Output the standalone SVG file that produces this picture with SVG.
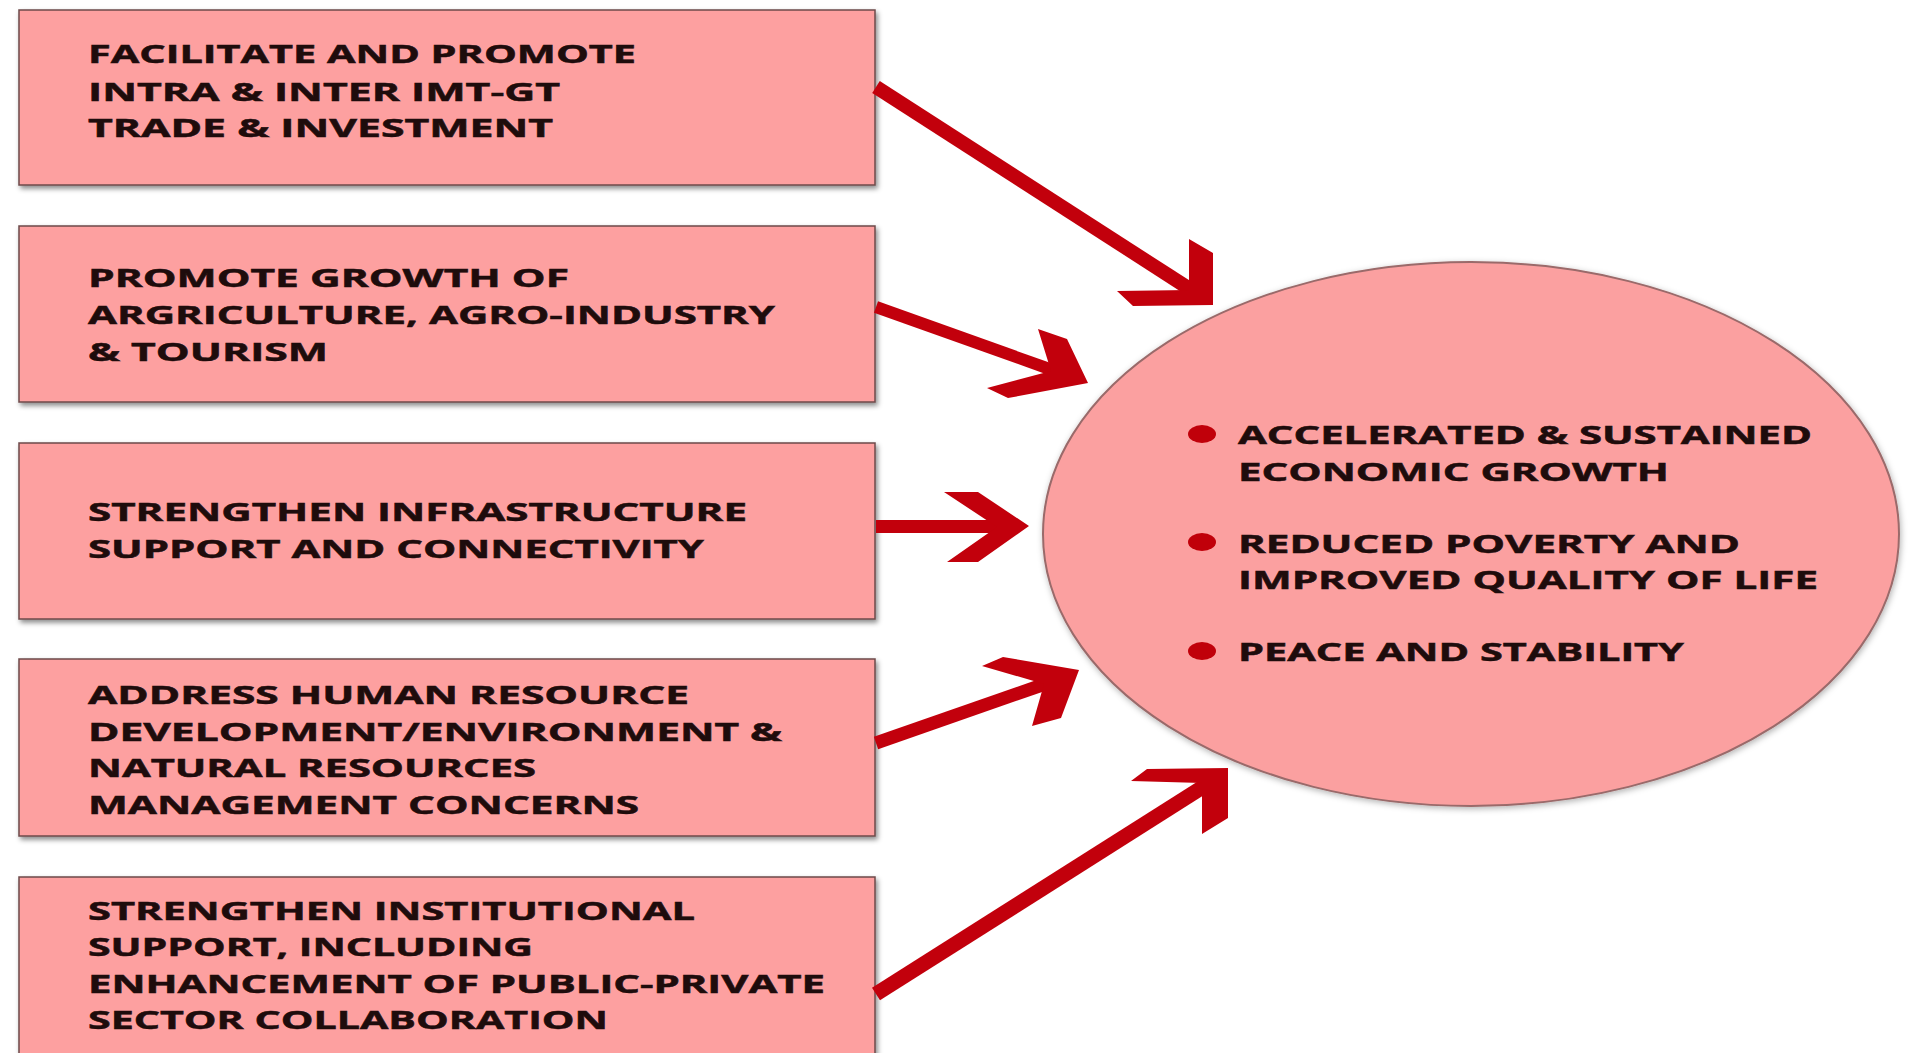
<svg xmlns="http://www.w3.org/2000/svg" width="1911" height="1053" viewBox="0 0 1911 1053">
<defs>
<filter id="sh" x="-5%" y="-5%" width="110%" height="115%">
<feDropShadow dx="2" dy="3" stdDeviation="2.5" flood-color="#000" flood-opacity="0.45"/>
</filter>
<filter id="sh2" x="-5%" y="-5%" width="110%" height="115%">
<feDropShadow dx="1" dy="2" stdDeviation="3" flood-color="#000" flood-opacity="0.3"/>
</filter>
<style>
.box{fill:#fda0a0;stroke:#6e4a4a;stroke-width:1.5;filter:url(#sh)}
.t{font-family:"Open Sans","Liberation Sans",sans-serif;font-weight:bold;font-size:24.5px;fill:#1e0c0c;stroke:#1e0c0c;stroke-width:0.5}
.ln{stroke:#c2000c;fill:none}
.hd{fill:#c2000c}
.bul{fill:#c0000a}
</style>
</defs>
<rect width="1911" height="1053" fill="#ffffff"/>

<g id="box1">
<rect class="box" x="19" y="10" width="856" height="175"/>
<text class="t" x="88" y="63" textLength="548" lengthAdjust="spacingAndGlyphs">FACILITATE AND PROMOTE</text>
<text class="t" x="88" y="100.5" textLength="472" lengthAdjust="spacingAndGlyphs">INTRA &amp; INTER IMT-GT</text>
<text class="t" x="88" y="137" textLength="465" lengthAdjust="spacingAndGlyphs">TRADE &amp; INVESTMENT</text>
</g>

<g id="box2">
<rect class="box" x="19" y="226" width="856" height="176"/>
<text class="t" x="88" y="287" textLength="481" lengthAdjust="spacingAndGlyphs">PROMOTE GROWTH OF</text>
<text class="t" x="88" y="324" textLength="687" lengthAdjust="spacingAndGlyphs">ARGRICULTURE, AGRO-INDUSTRY</text>
<text class="t" x="88" y="361" textLength="240" lengthAdjust="spacingAndGlyphs">&amp; TOURISM</text>
</g>

<g id="box3">
<rect class="box" x="19" y="443" width="856" height="176"/>
<text class="t" x="88" y="521" textLength="659" lengthAdjust="spacingAndGlyphs">STRENGTHEN INFRASTRUCTURE</text>
<text class="t" x="88" y="558" textLength="616" lengthAdjust="spacingAndGlyphs">SUPPORT AND CONNECTIVITY</text>
</g>

<g id="box4">
<rect class="box" x="19" y="659" width="856" height="177"/>
<text class="t" x="88" y="704" textLength="601" lengthAdjust="spacingAndGlyphs">ADDRESS HUMAN RESOURCE</text>
<text class="t" x="88" y="740.5" textLength="694" lengthAdjust="spacingAndGlyphs">DEVELOPMENT/ENVIRONMENT &amp;</text>
<text class="t" x="88" y="777" textLength="448" lengthAdjust="spacingAndGlyphs">NATURAL RESOURCES</text>
<text class="t" x="88" y="813.5" textLength="551" lengthAdjust="spacingAndGlyphs">MANAGEMENT CONCERNS</text>
</g>

<g id="box5">
<rect class="box" x="19" y="877" width="856" height="200"/>
<text class="t" x="88" y="919.5" textLength="607" lengthAdjust="spacingAndGlyphs">STRENGTHEN INSTITUTIONAL</text>
<text class="t" x="88" y="956" textLength="445" lengthAdjust="spacingAndGlyphs">SUPPORT, INCLUDING</text>
<text class="t" x="88" y="992.5" textLength="737" lengthAdjust="spacingAndGlyphs">ENHANCEMENT OF PUBLIC-PRIVATE</text>
<text class="t" x="88" y="1028.5" textLength="520" lengthAdjust="spacingAndGlyphs">SECTOR COLLABORATION</text>
</g>

<g id="goals">
<ellipse cx="1471" cy="534" rx="428" ry="272" fill="#fba0a0" stroke="#9a6a6a" stroke-width="2" filter="url(#sh2)"/>
<ellipse class="bul" cx="1202" cy="434" rx="14" ry="9"/>
<ellipse class="bul" cx="1202" cy="542" rx="14" ry="9"/>
<ellipse class="bul" cx="1202" cy="651" rx="14" ry="9"/>
<text class="t" x="1238" y="444" textLength="574" lengthAdjust="spacingAndGlyphs">ACCELERATED &amp; SUSTAINED</text>
<text class="t" x="1238" y="481" textLength="431" lengthAdjust="spacingAndGlyphs">ECONOMIC GROWTH</text>
<text class="t" x="1238" y="553" textLength="502" lengthAdjust="spacingAndGlyphs">REDUCED POVERTY AND</text>
<text class="t" x="1238" y="589" textLength="580" lengthAdjust="spacingAndGlyphs">IMPROVED QUALITY OF LIFE</text>
<text class="t" x="1238" y="661" textLength="446" lengthAdjust="spacingAndGlyphs">PEACE AND STABILITY</text>
</g>

<g id="connectors">
<line class="ln" x1="876" y1="87" x2="1196" y2="293" stroke-width="14"/>
<polygon class="hd" points="1189,239 1213,253 1213,305 1133,306 1117,291 1189,290"/>
<line class="ln" x1="876" y1="307" x2="1058" y2="372" stroke-width="12"/>
<polygon class="hd" points="1038,329 1067,339 1088,383 1008,398 987,388 1051,371"/>
<line class="ln" x1="876" y1="526.5" x2="1000" y2="526.5" stroke-width="13"/>
<polygon class="hd" points="944,492 978,492 1029,526 978,562 947,562 997,527"/>
<line class="ln" x1="876" y1="743" x2="1048" y2="683" stroke-width="13"/>
<polygon class="hd" points="1003,657 1079,670 1061,718 1032,726 1044,684 982,666"/>
<line class="ln" x1="876" y1="994" x2="1206" y2="785" stroke-width="15"/>
<polygon class="hd" points="1147,769 1228,768 1228,818 1202,834 1202,783 1131,781"/>
</g>
</svg>
